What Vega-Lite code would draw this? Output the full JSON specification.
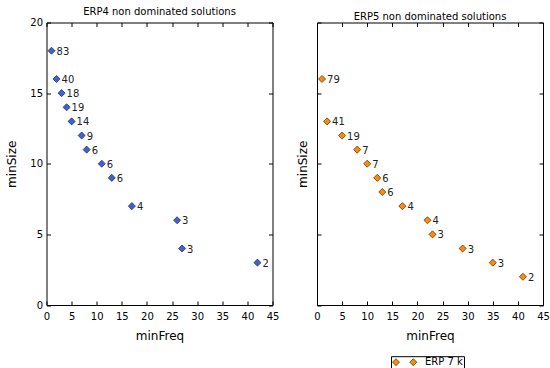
{
  "$schema": "https://vega.github.io/schema/vega-lite/v6.json",
  "padding": {"left": 4.5, "top": 6.5, "right": 0, "bottom": 0},
  "background": "white",
  "bounds": "flush",
  "spacing": 44.5,
  "datasets": {
    "erp4": [
      {"minFreq": 1, "minSize": 18, "n": "83"},
      {"minFreq": 2, "minSize": 16, "n": "40"},
      {"minFreq": 3, "minSize": 15, "n": "18"},
      {"minFreq": 4, "minSize": 14, "n": "19"},
      {"minFreq": 5, "minSize": 13, "n": "14"},
      {"minFreq": 7, "minSize": 12, "n": "9"},
      {"minFreq": 8, "minSize": 11, "n": "6"},
      {"minFreq": 11, "minSize": 10, "n": "6"},
      {"minFreq": 13, "minSize": 9, "n": "6"},
      {"minFreq": 17, "minSize": 7, "n": "4"},
      {"minFreq": 26, "minSize": 6, "n": "3"},
      {"minFreq": 27, "minSize": 4, "n": "3"},
      {"minFreq": 42, "minSize": 3, "n": "2"}
    ],
    "erp5": [
      {"minFreq": 1, "minSize": 16, "n": "79", "series": "ERP 7 k"},
      {"minFreq": 2, "minSize": 13, "n": "41", "series": "ERP 7 k"},
      {"minFreq": 5, "minSize": 12, "n": "19", "series": "ERP 7 k"},
      {"minFreq": 8, "minSize": 11, "n": "7", "series": "ERP 7 k"},
      {"minFreq": 10, "minSize": 10, "n": "7", "series": "ERP 7 k"},
      {"minFreq": 12, "minSize": 9, "n": "6", "series": "ERP 7 k"},
      {"minFreq": 13, "minSize": 8, "n": "6", "series": "ERP 7 k"},
      {"minFreq": 17, "minSize": 7, "n": "4", "series": "ERP 7 k"},
      {"minFreq": 22, "minSize": 6, "n": "4", "series": "ERP 7 k"},
      {"minFreq": 23, "minSize": 5, "n": "3", "series": "ERP 7 k"},
      {"minFreq": 29, "minSize": 4, "n": "3", "series": "ERP 7 k"},
      {"minFreq": 35, "minSize": 3, "n": "3", "series": "ERP 7 k"},
      {"minFreq": 41, "minSize": 2, "n": "2", "series": "ERP 7 k"}
    ]
  },
  "hconcat": [
    {
      "width": 226,
      "height": 282.5,
      "title": {"text": "ERP4 non dominated solutions", "offset": 0.5},
      "data": {"name": "erp4"},
      "layer": [
        {
          "mark": {"type": "point", "shape": "diamond", "filled": true, "size": 50, "fill": "#3d62d2", "stroke": "#1c2450", "strokeWidth": 0.7, "opacity": 1},
          "encoding": {
            "x": {"field": "minFreq", "type": "quantitative", "scale": {"domain": [0, 45], "nice": false, "zero": false},
                  "axis": {"orient": "bottom", "title": "minFreq", "values": [0,5,10,15,20,25,30,35,40,45], "tickSize": -4, "labelPadding": 10.5, "titlePadding": 9}},
            "y": {"field": "minSize", "type": "quantitative", "scale": {"domain": [0, 20], "nice": false, "zero": false},
                  "axis": {"orient": "left", "title": "minSize", "values": [0,5,10,15,20], "tickSize": -4, "labelPadding": 8, "titlePadding": 11.5}}
          }
        },
        {
          "mark": {"type": "text", "align": "left", "baseline": "middle", "dx": 5, "dy": 1, "fontSize": 10, "font": "DejaVu Sans", "color": "#222"},
          "encoding": {
            "x": {"field": "minFreq", "type": "quantitative",
                  "axis": {"orient": "top", "title": null, "labels": false, "values": [0,5,10,15,20,25,30,35,40,45], "tickSize": -4}},
            "y": {"field": "minSize", "type": "quantitative",
                  "axis": {"orient": "right", "title": null, "labels": false, "values": [0,5,10,15,20], "tickSize": -4}},
            "text": {"field": "n"}
          }
        }
      ],
      "resolve": {"axis": {"x": "independent", "y": "independent"}}
    },
    {
      "width": 226,
      "height": 282.5,
      "title": {"text": "ERP5 non dominated solutions", "offset": 0.5},
      "data": {"name": "erp5"},
      "layer": [
        {
          "mark": {"type": "point", "shape": "diamond", "filled": true, "size": 50, "stroke": "#3a2a10", "strokeWidth": 0.7, "opacity": 1},
          "encoding": {
            "x": {"field": "minFreq", "type": "quantitative", "scale": {"domain": [0, 45], "nice": false, "zero": false},
                  "axis": {"orient": "bottom", "title": "minFreq", "values": [0,5,10,15,20,25,30,35,40,45], "tickSize": -4, "labelPadding": 10.5, "titlePadding": 9}},
            "y": {"field": "minSize", "type": "quantitative", "scale": {"domain": [0, 20], "nice": false, "zero": false},
                  "axis": {"orient": "left", "title": "minSize", "labels": false, "values": [0,5,10,15,20], "tickSize": -4, "titlePadding": 7}},
            "color": {"field": "series", "type": "nominal", "scale": {"range": ["#ff8c00"]},
                      "legend": {"orient": "none", "legendX": 344.5, "legendY": 333.7, "padding": 1,
                                 "title": " ", "titleOrient": "bottom", "titleFontSize": 6, "titlePadding": 2,
                                 "strokeColor": "#000", "fillColor": "white", "cornerRadius": 0,
                                 "symbolType": "M-1.125,0L-0.25,-0.875L0.625,0L-0.25,0.875Z M3.2,0L4.075,-0.875L4.95,0L4.075,0.875Z",
                                 "symbolSize": 64, "symbolStrokeColor": "#3a2a10", "symbolStrokeWidth": 0.7,
                                 "labelOffset": 23, "labelFontSize": 10, "labelFont": "DejaVu Sans", "labelColor": "#000"}}
          }
        },
        {
          "mark": {"type": "text", "align": "left", "baseline": "middle", "dx": 5, "dy": 1, "fontSize": 10, "font": "DejaVu Sans", "color": "#222"},
          "encoding": {
            "x": {"field": "minFreq", "type": "quantitative",
                  "axis": {"orient": "top", "title": null, "labels": false, "values": [0,5,10,15,20,25,30,35,40,45], "tickSize": -4}},
            "y": {"field": "minSize", "type": "quantitative",
                  "axis": {"orient": "right", "title": null, "labels": false, "values": [0,5,10,15,20], "tickSize": -4}},
            "text": {"field": "n"}
          }
        }
      ],
      "resolve": {"axis": {"x": "independent", "y": "independent"}}
    }
  ],
  "config": {
    "view": {"stroke": "#000", "strokeWidth": 1},
    "title": {"font": "DejaVu Sans", "fontSize": 10, "fontWeight": "normal", "color": "#000"},
    "axis": {
      "domain": false, "grid": false, "tickColor": "#000", "tickWidth": 1,
      "labelFont": "DejaVu Sans", "labelFontSize": 10, "labelColor": "#000",
      "labelFlush": false, "labelOverlap": false,
      "titleFont": "DejaVu Sans", "titleFontSize": 12, "titleFontWeight": "normal", "titleColor": "#000"
    }
  }
}
